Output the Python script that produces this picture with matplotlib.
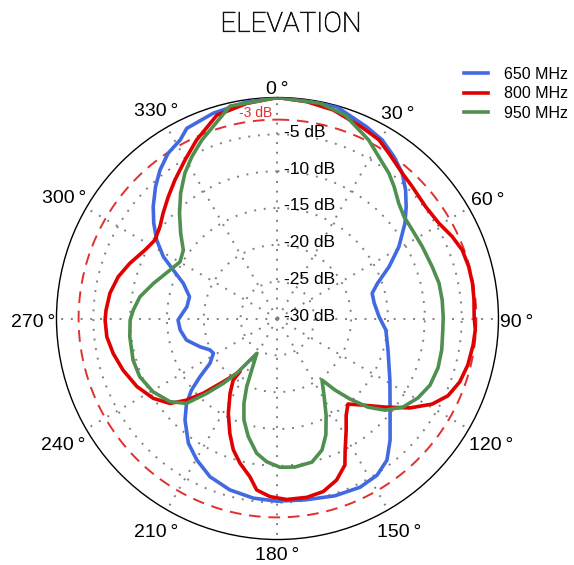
import numpy as np
import matplotlib.pyplot as plt
from matplotlib import transforms
import matplotlib.patheffects as pe

plt.rcParams['font.family'] = ['Liberation Sans', 'DejaVu Sans']

# radiation pattern, elevation cut (angle in deg, level in dB)
ang_650 = [0, 7.6, 15.6, 24.9, 30.4, 35.75, 40.7, 44.9, 49.0, 53.25, 59.4, 65.1, 70.6, 75.1,
           81.0, 89.0, 96.1, 105.9, 118.7, 129.1, 137.2, 142.3, 147.55, 153.9, 162.05,
           171.4, 180.2, 187.7, 195.5, 203.1, 209.7, 215.55, 222.3, 226.95, 230.2, 233.1,
           236.4, 241.5, 245.0, 250.0, 256.7, 263.3, 269.1, 271.1, 277.4, 283.9, 290.5,
           294.95, 298.4, 303.0, 307.6, 312.0, 317.3, 321.65, 326.5, 331.4, 334.5, 342.6,
           351.9, 360]
db_650 = [0, -0.1, -0.15, -1.3, -1.9, -2.93, -4.01, -5.36, -6.85, -8.4, -10.85, -13.3, -15.6,
          -16.7, -16.7, -16.2, -15.2, -14.4, -12.6, -10.3, -7.5, -5.7, -4.8, -4.5, -4.7,
          -5.1, -5.2, -5.4, -5.85, -6.65, -7.9, -9.2, -11.35, -13.1, -14.8, -16.85,
          -19.0, -20.1, -19.9, -18.8, -17.3, -16.7, -16.5, -16.8, -17.6, -17.7, -16.35,
          -14.4, -12.4, -10.45, -8.8, -7.3, -5.6, -4.3, -3.1, -2.4, -1.4, -0.8,
          -0.3, 0]

ang_800 = [0, 7.7, 15.0, 23.6, 29.6, 34.0, 40.7, 45.6, 53.0, 59.5, 64.9, 69.7, 74.9, 79.8,
           84.6, 89.5, 93.3, 97.7, 103.7, 109.2, 114.4, 118.95, 124.0, 129.5, 136.35, 140.5,
           144.6, 148.4, 152.8, 155.3, 159.9, 165.2, 170.7, 177.1, 182.4, 186.9, 189.9,
           194.5, 198.6, 202.5, 207.4, 212.4, 215.7, 215.2, 220.6, 224.8, 228.1, 231.7,
           237.3, 244.2, 251.5, 258.0, 263.9, 269.5, 272.8, 278.6, 284.7, 290.5, 297.3,
           302.65, 308.0, 312.6, 318.1, 323.5, 329.7, 335.6, 343.4, 351.9, 360]
db_800 = [0, -0.3, -0.7, -1.6, -2.1, -2.95, -4.0, -4.4, -4.8, -4.55, -3.8, -3.25, -3.1, -3.1,
          -3.2, -3.3, -3.1, -3.2, -3.4, -3.8, -4.6, -6.0, -8.3, -11.1, -13.8, -14.95,
          -13.9, -12.2, -9.9, -8.1, -6.65, -5.7, -5.4, -5.4, -5.8, -6.55, -8.2,
          -9.7, -11.2, -13.1, -15.5, -18.0, -19.7, -21.2, -18.7, -15.7, -13.4, -11.4,
          -9.95, -8.8, -7.9, -7.2, -6.7, -6.6, -6.7, -7.0, -7.65, -8.6, -9.75,
          -10.25, -9.75, -8.9, -7.8, -6.6, -5.1, -3.4, -1.2, -0.5, 0]

ang_950 = [0, 11.2, 18.35, 27.1, 32.1, 37.5, 41.5, 46.5, 51.2, 56.7, 63.6, 71.5, 77.7, 83.6,
           89.4, 94.0, 100.8, 107.1, 113.6, 119.5, 125.2, 130.4, 134.4, 138.0, 141.2, 144.1,
           148.7, 153.3, 157.4, 161.3, 166.5, 173.3, 179.0, 184.3, 188.8, 193.9, 198.3,
           201.55, 204.3, 206.6, 210.7, 213.5, 216.7, 219.9, 223.4, 227.0, 232.3, 239.5,
           247.1, 253.9, 263.0, 269.4, 273.4, 279.0, 285.8, 294.3, 300.2, 306.0, 311.35,
           317.0, 322.3, 327.5, 332.1, 337.0, 347.4, 360]
db_950 = [0, -0.2, -0.9, -2.8, -4.1, -5.15, -6.1, -7.3, -7.95, -8.1, -8.05, -7.85, -7.55, -7.5,
          -7.5, -7.5, -7.3, -7.2, -7.4, -8.1, -9.15, -10.8, -12.8, -15.3, -17.55, -19.7,
          -17.85, -15.3, -12.9, -11.15, -9.95, -9.7, -9.8, -10.5, -11.5, -13.5, -15.5,
          -17.6, -19.85, -22.2, -24.5, -23.2, -20.7, -18.5, -16.0, -13.1, -11.55, -10.4,
          -9.7, -9.6, -9.8, -10.0, -10.4, -11.1, -12.5, -14.0, -14.7, -14.2, -12.5,
          -10.5, -8.5, -6.6, -5.15, -3.7, -0.45, 0]

labels = ['650 MHz', '800 MHz', '950 MHz']
colors = ['#4169e1', '#e00000', '#4f8f4f']
r_ticks = [-5, -10, -15, -20, -25, -30]
theta_ticks = list(range(0, 360, 30))

fig = plt.figure(figsize=(5.74, 5.65), dpi=100)
ax = fig.add_axes([0.0984, 0.0451, 0.770, 0.7823], projection='polar')
ax.set_theta_zero_location('N')
ax.set_theta_direction(-1)
ax.set_ylim(-30, 0)

# -3 dB reference
th = np.linspace(0, 2 * np.pi, 361)
ax.plot(th, np.full_like(th, -3.0), color='#e03030', lw=1.4, dashes=(6, 4), zorder=2)

for a, d, lab, c in zip([ang_650, ang_800, ang_950], [db_650, db_800, db_950], labels, colors):
    ax.plot(np.deg2rad(a), d, color=c, lw=2.6, label=lab, zorder=3,
            solid_joinstyle='round')

ax.set_xticks(np.deg2rad(theta_ticks))
ax.set_xticklabels([])
ax.tick_params(axis='x', direction='in', length=11, width=1.2, color='black')
ax.set_yticks([-25, -20, -15, -10, -5])
ax.set_yticklabels([])
ax.grid(True, color='#808080', linestyle=(0, (1, 4)), linewidth=1.4)
ax.spines['polar'].set_linewidth(1.0)
ax.spines['polar'].set_color('black')

# angle labels just outside the rim
renderer = fig.canvas.get_renderer()
for deg in theta_ticks:
    t = ax.text(np.deg2rad(deg), 0, f'{deg}\u2009°', fontsize=14, ha='center', va='center')
    bb = t.get_window_extent(renderer)
    s, c = np.sin(np.deg2rad(deg)), np.cos(np.deg2rad(deg))
    d = 1.5 + abs(s) * bb.width / 2 + abs(c) * (bb.height / 2 + 2)
    t.set_transform(transforms.offset_copy(ax.transData, fig=fig, x=s * d * 0.72,
                                           y=(c * d - 3.5) * 0.72, units='points'))

off = transforms.offset_copy(ax.transData, fig=fig, x=5, y=1.5, units='points')
for v in r_ticks:
    ax.text(0, v, f'{v} dB', transform=off, ha='left', va='center', fontsize=12.5, zorder=4)

off3 = transforms.offset_copy(ax.transData, fig=fig, x=-4, y=-0.5, units='points')
ax.text(0, -3, '-3 dB', transform=off3, ha='right', va='bottom', fontsize=10,
        color='#e03030', zorder=4)

fig.legend(loc='upper right', bbox_to_anchor=(0.99, 0.882), frameon=False,
           fontsize=11.5, handlelength=1.5, labelspacing=0.28, handletextpad=1.0,
           borderpad=0, borderaxespad=0)

fig.text(0.507, 0.957, 'ELEVATION', ha='center', va='center', fontsize=20,
         family='Roboto', fontweight='light', color='#111111',
         path_effects=[pe.withStroke(linewidth=0.45, foreground='#111111')])

fig.savefig('out.png', dpi=100)
